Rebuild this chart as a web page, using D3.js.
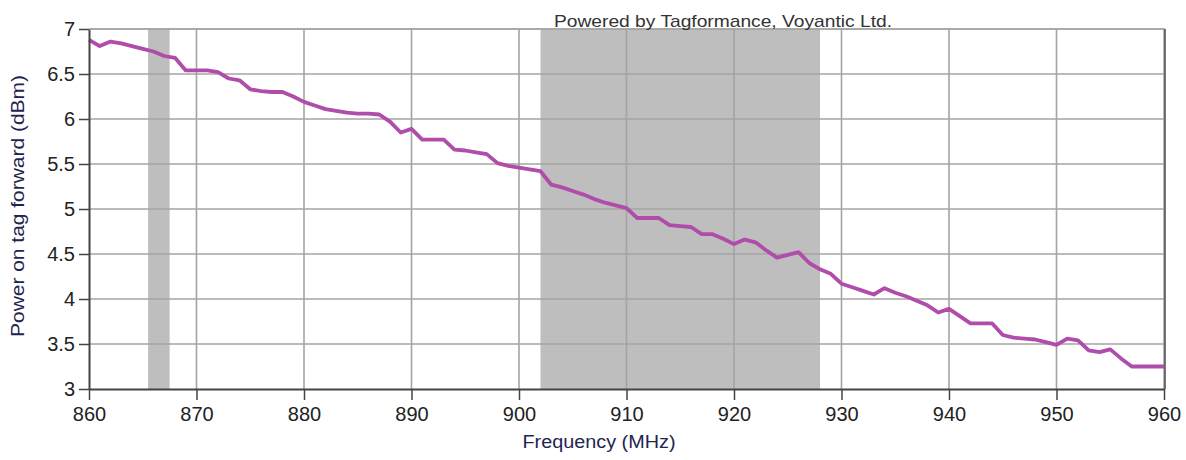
<!DOCTYPE html>
<html><head><meta charset="utf-8">
<script src="https://cdn.jsdelivr.net/npm/d3@7"></script>
<style>body{margin:0;background:#fff}svg{display:block}</style>
</head><body>
<svg id="c" width="1186" height="460"></svg>
<script>
const freqs = d3.range(860, 961);
const power = [6.88,6.81,6.86,6.84,6.81,6.78,6.75,6.70,6.68,6.54,
6.54,6.54,6.52,6.45,6.43,6.33,6.31,6.30,6.30,6.25,
6.19,6.15,6.11,6.09,6.07,6.06,6.06,6.05,5.97,5.85,
5.89,5.77,5.77,5.77,5.66,5.65,5.63,5.61,5.51,5.48,
5.46,5.44,5.42,5.27,5.24,5.20,5.16,5.11,5.07,5.04,
5.01,4.90,4.90,4.90,4.82,4.81,4.80,4.72,4.72,4.67,
4.61,4.66,4.63,4.54,4.46,4.49,4.52,4.40,4.33,4.28,
4.17,4.13,4.09,4.05,4.12,4.07,4.03,3.98,3.93,3.85,
3.89,3.81,3.73,3.73,3.73,3.60,3.57,3.56,3.55,3.52,
3.49,3.56,3.54,3.43,3.41,3.44,3.34,3.25,3.25,3.25,3.25];
const bands = [[865.5, 867.5], [902, 928]];
const xTicks = [860,870,880,890,900,910,920,930,940,950,960];
const yTicks = [3,3.5,4,4.5,5,5.5,6,6.5,7];
const title = "Powered by Tagformance, Voyantic Ltd.";
const xLabel = "Frequency (MHz)";
const yLabel = "Power on tag forward (dBm)";

const L = 89, R = 1164, T = 29, B = 389;
const svg = d3.select("#c");
const x = d3.scaleLinear().domain([860, 960]).range([L, R]);
const y = d3.scaleLinear().domain([3, 7]).range([B, T]);
const font = "'Liberation Sans', Arial, sans-serif";

svg.selectAll("rect.band").data(bands).join("rect")
  .attr("x", d => x(d[0])).attr("width", d => x(d[1]) - x(d[0]))
  .attr("y", T).attr("height", B - T).attr("fill", "#bebebe");

svg.selectAll("line.gx").data(xTicks.slice(1)).join("line")
  .attr("x1", d => x(d)).attr("x2", d => x(d)).attr("y1", T).attr("y2", B)
  .attr("stroke", "#a4a4a4").attr("stroke-width", 1.6);
svg.selectAll("line.gy").data(yTicks.slice(1)).join("line")
  .attr("x1", L).attr("x2", R).attr("y1", d => y(d)).attr("y2", d => y(d))
  .attr("stroke", "#a4a4a4").attr("stroke-width", 1.6);

svg.append("path").datum(freqs.map((f, i) => [f, power[i]]))
  .attr("fill", "none").attr("stroke", "#b04caa").attr("stroke-width", 3.8)
  .attr("stroke-linejoin", "round")
  .attr("d", d3.line().x(d => x(d[0])).y(d => y(d[1])));

const xa = svg.append("g").attr("transform", `translate(0,${B})`)
  .call(d3.axisBottom(x).tickValues(xTicks).tickFormat(d3.format("d")).tickSize(11).tickPadding(7).tickSizeOuter(0));
const ya = svg.append("g").attr("transform", `translate(${L},0)`)
  .call(d3.axisLeft(y).tickValues(yTicks).tickFormat(d => d).tickSize(10).tickPadding(4).tickSizeOuter(0));
[xa, ya].forEach(g => {
  g.select(".domain").attr("stroke", "#444").attr("stroke-width", 2);
  g.selectAll(".tick line").attr("stroke", "#444").attr("stroke-width", 1.5);
  g.selectAll(".tick text").attr("fill", "#222").style("font-family", font).style("font-size", "20px");
});
svg.append("line").attr("x1", L).attr("x2", R + 1).attr("y1", T).attr("y2", T).attr("stroke", "#a4a4a4").attr("stroke-width", 1.6);
svg.append("line").attr("x1", R + 1).attr("x2", R + 1).attr("y1", T).attr("y2", B).attr("stroke", "#555").attr("stroke-width", 1.6);

svg.append("text").attr("x", 723).attr("y", 27).attr("text-anchor", "middle")
  .attr("textLength", 338).attr("lengthAdjust", "spacingAndGlyphs")
  .attr("fill", "#333").style("font-family", font).style("font-size", "17px").text(title);
svg.append("text").attr("x", 599).attr("y", 448).attr("text-anchor", "middle")
  .attr("textLength", 153).attr("lengthAdjust", "spacingAndGlyphs")
  .attr("fill", "#1f2550").style("font-family", font).style("font-size", "18px").text(xLabel);
svg.append("text").attr("transform", "translate(24,206) rotate(-90)").attr("text-anchor", "middle")
  .attr("textLength", 262).attr("lengthAdjust", "spacingAndGlyphs")
  .attr("fill", "#1f2550").style("font-family", font).style("font-size", "18px").text(yLabel);
</script>
</body></html>
